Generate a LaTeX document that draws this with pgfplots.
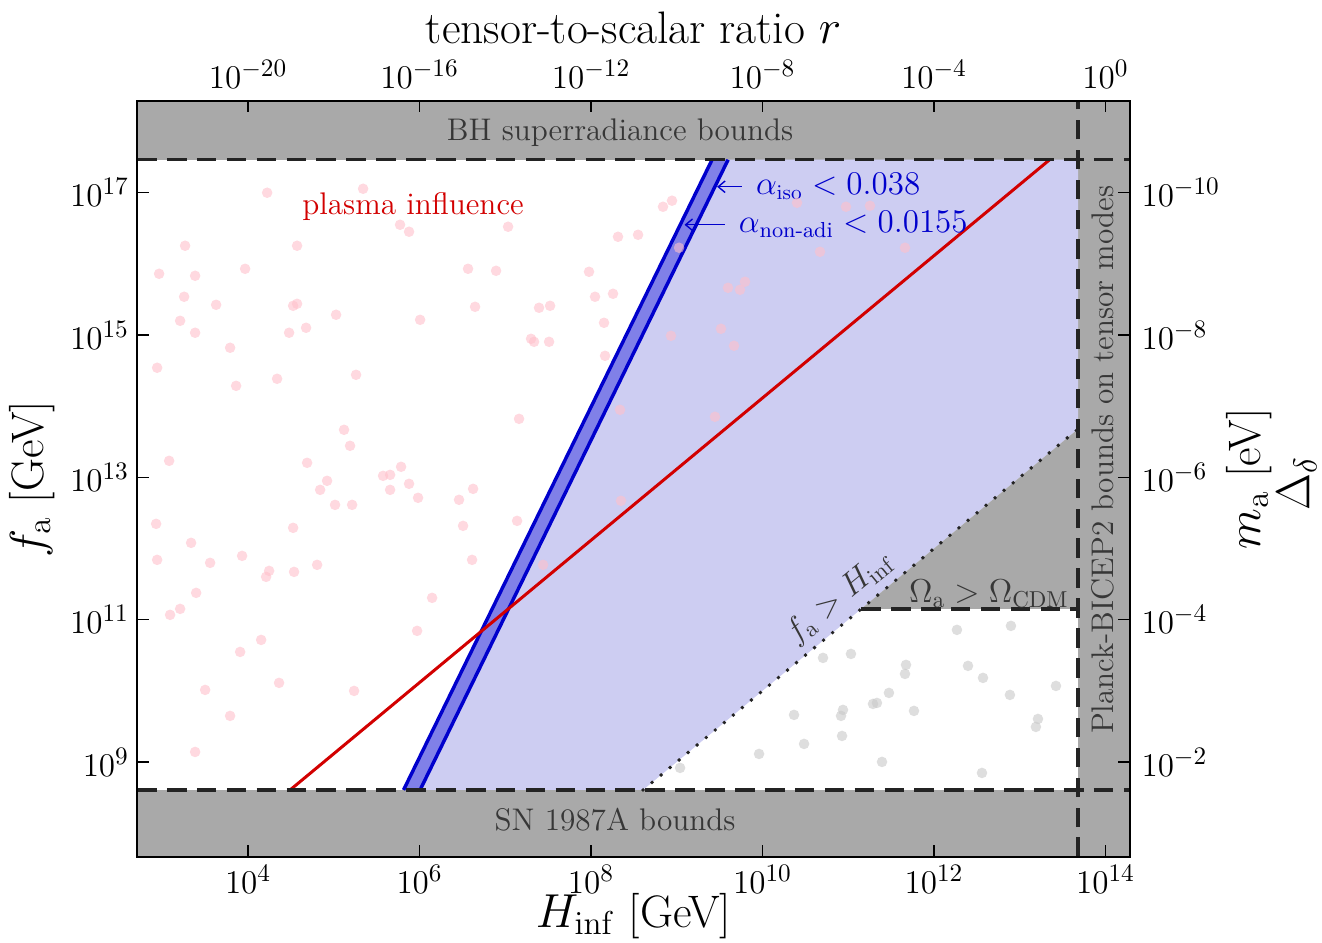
\documentclass[border=0pt]{standalone}
\usepackage{amsmath}
\usepackage{pgfplots}
\pgfplotsset{compat=1.18}
\usetikzlibrary{arrows.meta}
\definecolor{grayreg}{RGB}{169,169,169}
\definecolor{lightblue}{RGB}{205,205,242}
\definecolor{bandblue}{RGB}{128,128,232}
\definecolor{lineblue}{RGB}{0,0,204}
\definecolor{redline}{RGB}{210,0,0}
\definecolor{dashgray}{RGB}{35,35,35}
\definecolor{ptpink}{RGB}{255,192,203}
\definecolor{ptgray}{RGB}{200,200,200}
\definecolor{txtgray}{RGB}{55,55,55}
\newcommand{\tfont}{\fontsize{15}{18}\selectfont}
\newcommand{\lfont}{\fontsize{19.8}{23}\selectfont}
\newcommand{\afont}{\fontsize{13.6}{16}\selectfont}
\newcommand{\bfont}{\fontsize{13.5}{16}\selectfont}
\pgfplotsset{common/.style={width=431.7pt,height=328.7pt,scale only axis,
  xmin=2.705,xmax=14.285,ymin=7.664,ymax=18.29,
  tick align=inside, major tick length=5pt,
  tick style={black,line width=0.6pt},
  ticklabel style={font=\tfont}, label style={font=\lfont},
  axis line style={line width=0.7pt},
  xminorticks=false, yminorticks=false}}
\begin{document}
\begin{tikzpicture}
\begin{axis}[common, name=main,
  xtick={4,6,8,10,12,14},
  xticklabels={$10^{4}$,$10^{6}$,$10^{8}$,$10^{10}$,$10^{12}$,$10^{14}$},
  ytick={9,11,13,15,17},
  yticklabels={$10^{9}$,$10^{11}$,$10^{13}$,$10^{15}$,$10^{17}$},
  xtick pos=bottom, ytick pos=left,
  xlabel={$H_{\rm inf}$ [GeV]}, ylabel={$f_{\rm a}$ [GeV]},
  xlabel shift=-6.8pt,
  axis on top]
% gray excluded regions
\addplot[fill=grayreg, draw=none] coordinates {(2.705,17.464) (14.285,17.464) (14.285,18.29) (2.705,18.29)} -- cycle;
\addplot[fill=grayreg, draw=none] coordinates {(2.705,7.664) (14.285,7.664) (14.285,8.606) (2.705,8.606)} -- cycle;
\addplot[fill=grayreg, draw=none] coordinates {(13.68,7.664) (14.285,7.664) (14.285,18.29) (13.68,18.29)} -- cycle;
% light blue allowed region
\addplot[fill=lightblue, draw=none] coordinates {(6.006,8.606) (9.598,17.464) (13.68,17.464) (13.68,13.68) (8.606,8.606)} -- cycle;
% Omega > Omega_CDM triangle
\addplot[fill=grayreg, draw=none] coordinates {(11.15,11.15) (13.68,11.15) (13.68,13.68)} -- cycle;
% isocurvature band
\addplot[fill=bandblue, draw=none] coordinates {(5.813,8.606) (9.411,17.464) (9.598,17.464) (6.006,8.606)} -- cycle;
% scatter points
\addplot[only marks, mark=*, mark size=2.3pt, mark options={ptpink, fill opacity=0.6, draw opacity=0}] table {
x y
4.222 17.000
5.341 17.056
5.772 16.550
5.877 16.452
3.265 16.255
4.571 16.255
2.962 15.861
3.382 15.833
3.965 15.931
3.254 15.538
3.627 15.425
4.525 15.411
4.571 15.439
5.026 15.285
6.006 15.214
3.207 15.200
3.382 15.032
4.478 15.032
4.676 15.102
3.790 14.821
2.939 14.540
7.032 16.522
8.839 16.803
8.944 16.888
8.314 16.381
8.548 16.409
6.565 15.931
6.892 15.903
7.976 15.889
6.647 15.397
7.393 15.383
7.522 15.411
8.046 15.538
8.256 15.580
8.151 15.172
7.300 14.947
7.335 14.905
7.510 14.905
8.163 14.708
9.026 16.227
9.597 15.664
9.737 15.636
9.795 15.749
9.515 15.088
8.932 14.989
9.667 14.849
10.402 16.859
10.973 16.803
11.253 16.817
10.670 16.170
11.661 16.227
3.860 14.286
4.338 14.385
5.259 14.441
5.119 13.668
5.189 13.443
3.079 13.232
4.688 13.204
4.921 12.951
4.840 12.824
5.574 13.021
5.656 13.035
5.784 13.148
5.877 12.909
5.656 12.824
5.982 12.712
5.014 12.613
5.213 12.613
2.927 12.346
4.525 12.290
3.335 12.079
2.939 11.840
3.557 11.798
3.930 11.896
4.245 11.685
4.536 11.671
4.805 11.770
4.210 11.601
3.394 11.376
3.207 11.151
3.090 11.067
4.152 10.715
3.907 10.546
4.361 10.111
3.499 10.012
5.236 9.998
3.790 9.647
3.382 9.140
6.146 11.306
5.971 10.842
7.160 13.822
6.624 12.838
6.460 12.684
6.507 12.318
7.137 12.388
6.612 11.840
8.338 13.949
9.445 13.851
8.349 12.670
7.440 11.770
};
\addplot[only marks, mark=*, mark size=2.3pt, mark options={ptgray, fill opacity=0.6, draw opacity=0}] table {
x y
12.267 10.856
12.897 10.912
10.705 10.462
11.031 10.518
11.673 10.364
11.661 10.237
12.396 10.350
12.571 10.181
13.422 10.068
11.474 9.970
12.885 9.942
11.288 9.815
11.334 9.829
10.938 9.731
10.915 9.647
10.367 9.661
11.766 9.717
13.212 9.604
13.188 9.492
10.927 9.365
10.484 9.253
9.959 9.112
11.393 9.000
12.559 8.845
9.038 8.916
};
% band edge lines
\addplot[lineblue, line width=1.5pt] coordinates {(5.813,8.606) (9.411,17.464)};
\addplot[lineblue, line width=1.5pt] coordinates {(6.006,8.606) (9.598,17.464)};
% plasma line
\addplot[redline, line width=1.3pt] coordinates {(4.49,8.606) (13.348,17.464)};
% boundaries
\addplot[dashgray, line width=1.45pt, dash pattern=on 8.5pt off 4.5pt] coordinates {(2.705,17.464) (14.285,17.464)};
\addplot[dashgray, line width=1.45pt, dash pattern=on 8.5pt off 4.5pt] coordinates {(2.705,8.606) (14.285,8.606)};
\addplot[dashgray, line width=1.45pt, dash pattern=on 8.5pt off 4.5pt] coordinates {(13.68,7.664) (13.68,18.29)};
\addplot[dashgray, line width=1.45pt, dash pattern=on 8.5pt off 4.5pt] coordinates {(11.15,11.15) (13.68,11.15)};
\addplot[dashgray, line width=1.7pt, line cap=round, dash pattern=on 0pt off 5.1pt] coordinates {(8.606,8.606) (13.68,13.68)};
% annotations
\node[font=\afont, text=txtgray] at (axis cs:8.338,17.844) {BH superradiance bounds};
\node[font=\afont, text=txtgray] at (axis cs:8.28,8.184) {SN 1987A bounds};
\node[font=\afont, text=txtgray, rotate=90] at (axis cs:13.97,13.246) {Planck-BICEP2 bounds on tensor modes};
\node[font=\afont, text=txtgray, inner sep=1pt] at (axis cs:12.64,11.362) {$\Omega_{\rm a}>\Omega_{\rm CDM}$};
\node[font=\afont, text=txtgray, rotate=39.4, inner sep=0pt] at (axis cs:10.9,11.31) {$f_{\rm a}>H_{\rm inf}$};
\node[font=\afont, text=redline] at (axis cs:5.924,16.80) {plasma influence};
\draw[lineblue, line width=0.6pt, -{Straight Barb[length=3pt,width=5pt]}] (axis cs:9.76,17.084) -- (axis cs:9.47,17.084);
\node[font=\bfont, text=lineblue, anchor=west] at (axis cs:9.83,17.084) {$\alpha_{\rm iso}<0.038$};
\draw[lineblue, line width=0.6pt, -{Straight Barb[length=3pt,width=5pt]}] (axis cs:9.56,16.55) -- (axis cs:9.09,16.55);
\node[font=\bfont, text=lineblue, anchor=west] at (axis cs:9.63,16.55) {$\alpha_{\text{non-adi}}<0.0155$};
\end{axis}
% top axis: tensor-to-scalar ratio
\begin{axis}[common, at={(main.south west)}, anchor=south west,
  axis x line*=top, hide y axis,
  xtick={4,6,8,10,12,14},
  xticklabels={$10^{-20}$,$10^{-16}$,$10^{-12}$,$10^{-8}$,$10^{-4}$,$10^{0}$},
  xticklabel shift=1.7pt, xlabel shift=0.5pt,
  xlabel={tensor-to-scalar ratio $r$}]
\end{axis}
% right axis: axion mass
\begin{axis}[common, at={(main.south west)}, anchor=south west,
  axis y line*=right, hide x axis, clip=false,
  ytick={9,11,13,15,17},
  yticklabels={$10^{-2}$,$10^{-4}$,$10^{-6}$,$10^{-8}$,$10^{-10}$},
  yticklabel shift=1.5pt, ylabel shift=-4pt,
  ylabel={$m_{\rm a}$ [eV]}]
\path (rel axis cs:1,0.5) ++(72.5pt,-2pt) node[font=\lfont, rotate=90, inner sep=0pt] {$\Delta_{\delta}$};
\coordinate (bbsw) at (rel axis cs:0,0);
\coordinate (bbne) at (rel axis cs:1,1);
\end{axis}
\pgfresetboundingbox
\path ([shift={(-59.6pt,-37pt)}]bbsw) rectangle ([shift={(83.5pt,43.9pt)}]bbne);
\end{tikzpicture}
\end{document}
